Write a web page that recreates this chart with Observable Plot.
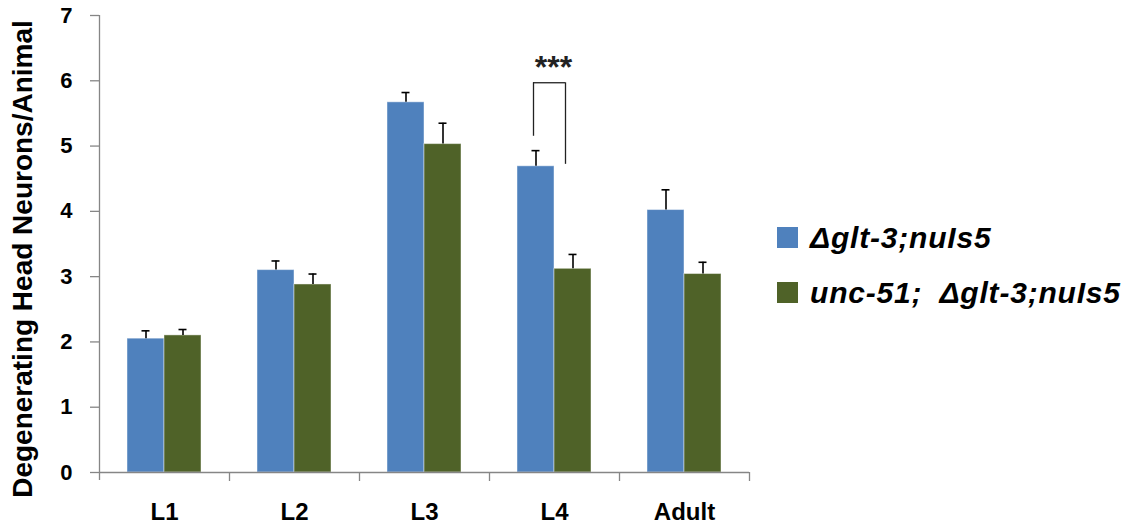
<!DOCTYPE html>
<html><head><meta charset="utf-8">
<script src="https://cdn.jsdelivr.net/npm/d3@7"></script>
<script src="https://cdn.jsdelivr.net/npm/@observablehq/plot@0.6"></script>
<style>
body{margin:0;background:#fff;}
#wrap{position:relative;width:1138px;height:526px;overflow:hidden;}
#wrap svg{font-family:"Liberation Sans",Arial,sans-serif;}
#wrap svg [aria-label="x-axis tick label"]{font-size:24px;font-weight:bold;fill:#000;}
#wrap svg [aria-label="y-axis tick label"]{font-size:22px;font-weight:bold;fill:#000;}
.legend{position:absolute;left:777px;top:210px;font-family:"Liberation Sans",Arial,sans-serif;font-weight:bold;font-style:italic;font-size:30px;letter-spacing:0.8px;word-spacing:8px;color:#000;}
.item{display:flex;align-items:center;height:55px;white-space:nowrap;}
.sw{width:21px;height:21px;margin-right:12px;flex:none;}
</style></head><body><div id="wrap"></div>
<script>
const stages = ["L1", "L2", "L3", "L4", "Adult"];
const seriesNames = ["Δglt-3;nuIs5", "unc-51; Δglt-3;nuIs5"];
const seriesColors = ["#4F81BD", "#4F6228"];
const blueMeans = [2.05, 3.10, 5.67, 4.69, 4.02];
const blueErr = [0.12, 0.14, 0.15, 0.24, 0.31];
const greenMeans = [2.10, 2.88, 5.03, 3.12, 3.04];
const greenErr = [0.09, 0.16, 0.32, 0.22, 0.18];
const yTicks = [0, 1, 2, 3, 4, 5, 6, 7];
const yLabel = "Degenerating Head Neurons/Animal";
const sigStage = "L4";
const sigLabel = "***";
const sigLabelY = 6.27;
const bracketTop = [5.97];
const bracketLegEnds = [5.15, 4.72];

const blue = stages.map((s, i) => ({stage: s, value: blueMeans[i], top: blueMeans[i] + blueErr[i]}));
const green = stages.map((s, i) => ({stage: s, value: greenMeans[i], top: greenMeans[i] + greenErr[i]}));

const axisGray = "#868686";
const chart = Plot.plot({
  width: 1138,
  height: 526,
  marginLeft: 99,
  marginRight: 389,
  marginTop: 15,
  marginBottom: 54,
  x: {domain: stages, paddingInner: 0, paddingOuter: 0, round: false, label: null},
  y: {domain: [0, 7], label: null},
  marks: [
    Plot.barY(blue, {x: "stage", y: "value", fill: seriesColors[0], insetLeft: 28, insetRight: 65, stroke: "#ffffff", strokeOpacity: 0.45, strokeWidth: 1}),
    Plot.barY(green, {x: "stage", y: "value", fill: seriesColors[1], insetLeft: 65, insetRight: 28, stroke: "#ffffff", strokeOpacity: 0.45, strokeWidth: 1}),
    Plot.ruleX(blue, {x: "stage", y1: "value", y2: "top", dx: -18.5, stroke: "#000", strokeWidth: 1.6}),
    Plot.tickY(blue, {x: "stage", y: "top", insetLeft: 42.5, insetRight: 79.5, stroke: "#000", strokeWidth: 1.6}),
    Plot.ruleX(green, {x: "stage", y1: "value", y2: "top", dx: 18.5, stroke: "#000", strokeWidth: 1.6}),
    Plot.tickY(green, {x: "stage", y: "top", insetLeft: 79.5, insetRight: 42.5, stroke: "#000", strokeWidth: 1.6}),
    // significance bracket
    Plot.ruleX([sigStage], {x: d => d, y1: () => bracketLegEnds[0], y2: () => bracketTop[0], dx: -21, stroke: "#222", strokeWidth: 1.3}),
    Plot.ruleX([sigStage], {x: d => d, y1: () => bracketLegEnds[1], y2: () => bracketTop[0], dx: 11, stroke: "#222", strokeWidth: 1.3}),
    Plot.tickY(bracketTop, {x: () => sigStage, y: d => d, insetLeft: 44, insetRight: 54, stroke: "#222", strokeWidth: 1.3}),
    Plot.text([sigLabel], {x: () => sigStage, y: () => sigLabelY, text: d => d, dx: -1, dy: 5, fontSize: 32, fontWeight: "bold", fill: "#222", style: "letter-spacing:1px"}),
    // axes
    Plot.ruleY([0], {stroke: axisGray, strokeWidth: 1.3}),
    Plot.ruleX([stages[0]], {x: d => d, dx: -65, stroke: axisGray, strokeWidth: 1.3, insetBottom: -8}),
    Plot.axisX({ticks: stages, tickSize: 9, tickFormat: () => "", dx: 65, stroke: axisGray, strokeWidth: 1.3, label: null}),
    Plot.axisX({ticks: stages, tickSize: 0, tickPadding: 30, label: null}),
    Plot.axisY({ticks: yTicks, tickSize: 9, tickPadding: 18, tickFormat: d3.format("d"), stroke: axisGray, strokeWidth: 1.3, label: null}),
    Plot.text([yLabel], {frameAnchor: "left", text: d => d, rotate: -90, textAnchor: "middle", dx: -76, dy: 15, fontSize: 28, fontWeight: "bold", fill: "#000"})
  ]
});
const wrap = document.getElementById("wrap");
wrap.appendChild(chart);
const legend = document.createElement("div");
legend.className = "legend";
seriesNames.forEach((name, i) => {
  const item = document.createElement("div");
  item.className = "item";
  const sw = document.createElement("span");
  sw.className = "sw";
  sw.style.background = seriesColors[i];
  const t = document.createElement("span");
  t.textContent = name;
  item.appendChild(sw);
  item.appendChild(t);
  legend.appendChild(item);
});
wrap.appendChild(legend);
</script>
</body></html>
